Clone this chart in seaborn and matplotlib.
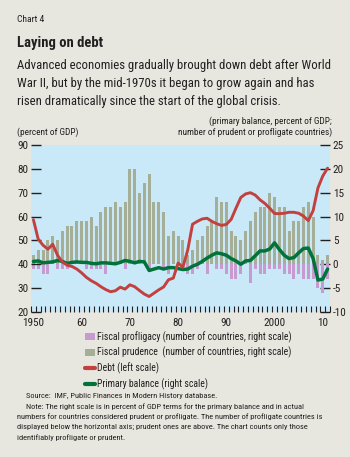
import numpy as np
import pandas as pd
import matplotlib
matplotlib.use("Agg")
import matplotlib.pyplot as plt
import seaborn as sns
from matplotlib import font_manager
from matplotlib.patches import Patch
from matplotlib.lines import Line2D

# ---------------------------------------------------------------
# Data
# ---------------------------------------------------------------
years = list(range(1950, 2012))

# number of prudent countries (right scale, above axis)
prudence = [2, 3, 3, 5, 6, 5, 7, 8, 8, 9,
            9, 9, 10, 8, 11, 12, 12, 13, 12, 13,
            20, 20, 15, 17, 19, 13, 13, 11, 6, 7,
            6, 5, 2, 3, 5, 6, 8, 9, 14, 13,
            13, 7, 6, 5, 7, 9, 11, 12, 12, 15,
            14, 12, 12, 7, 9, 9, 12, 13, 10, 2,
            1, 2]

# number of profligate countries (right scale, below axis)
profligacy = [-1, -1, -2, -2, 0, -1, -1, -1, 0, 0,
              0, -1, -1, -1, -1, -2, 0, 0, 0, -1,
              0, 0, 0, 0, -1, 0, 0, -1, -2, 0,
              0, 0, -2, -2, -1, 0, -2, 0, -1, -1,
              -2, -3, -3, -2, 0, -4, -1, -2, -2, -1,
              -1, -1, -2, -2, -3, -2, -3, -3, -3, -5,
              -6, -3]

# debt, percent of GDP (left scale)
debt = [58.7, 50.5, 48.0, 46.3, 48.4, 43.8, 41.0, 39.6, 39.1, 38.0,
        36.4, 34.5, 33.1, 32.0, 30.6, 29.4, 28.5, 28.9, 30.4, 29.6,
        31.4, 30.6, 29.0, 27.5, 26.5, 27.9, 29.3, 30.5, 33.5, 34.2,
        40.5, 38.8, 46.0, 56.8, 58.0, 59.0, 59.3, 58.0, 57.0, 56.3,
        56.7, 58.8, 63.5, 68.0, 69.5, 70.0, 69.0, 67.0, 65.5, 63.5,
        61.3, 61.2, 61.4, 61.8, 61.8, 61.4, 60.2, 58.3, 62.5, 72.0,
        77.0, 80.3]

# primary balance, percent of GDP (right scale)
primary = [0.6, 0.7, 0.3, 0.4, 0.5, 0.8, 0.6, 0.2, 0.4, 0.5,
           0.4, 0.4, 0.2, 0.1, 0.3, 0.3, 0.2, 0.1, 0.4, 0.8,
           0.6, 0.3, 0.6, 0.5, -1.3, -1.0, -0.7, -1.0, -0.7, -0.7,
           -0.9, -1.1, -1.0, -0.4, 0.0, 0.6, 1.3, 1.9, 2.4, 2.2,
           1.9, 1.2, 0.7, 0.0, 0.7, 0.8, 1.8, 2.8, 2.8, 3.2,
           4.5, 3.1, 1.9, 1.2, 1.4, 2.4, 3.3, 3.4, 1.2, -3.3,
           -3.1, -1.0]

decade_ticks = [1950, 1960, 1970, 1980, 1990, 2000, 2010]
decade_labels = ["1950", "60", "70", "80", "90", "2000", "10"]

df = pd.DataFrame({"year": years, "prudence": prudence,
                   "profligacy": profligacy, "debt": debt,
                   "primary": primary})

# ---------------------------------------------------------------
# Style
# ---------------------------------------------------------------
BG = "#e7e6df"
PLOT_BG = "#c9e9f8"
GRAY = "#a5af98"
PINK = "#c79bd0"
RED = "#c2413f"
GREEN = "#00733a"
TXT = "#231f20"

sns.set_style("white")

# the original uses a condensed face; take a narrow one if there is one
installed = {f.name for f in font_manager.fontManager.ttflist}
family = "Liberation Sans"
for cand in ["Liberation Sans Narrow", "Roboto Condensed", "Open Sans Condensed"]:
    if cand in installed:
        family = cand
        break
plt.rcParams["font.family"] = [family, "DejaVu Sans"]
plt.rcParams["axes.unicode_minus"] = False
plt.rcParams["text.color"] = TXT

W, H = 350, 457
fig = plt.figure(figsize=(W / 100, H / 100), dpi=100, facecolor=BG)
renderer = fig.canvas.get_renderer()


def fx(px):
    return px / W


def fy(py):
    return 1 - py / H


def fit_size(s, width, size=8, weight="normal"):
    # font size that makes the string span `width` pixels
    t = fig.text(0, 0, s, fontsize=size, fontweight=weight)
    w = t.get_window_extent(renderer).width
    t.remove()
    return size * width / w


# plot area: x 31..330, y 145..312
ax = fig.add_axes([fx(31), fy(312), fx(330) - fx(31), fy(145) - fy(312)])
ax.set_facecolor(PLOT_BG)

# bars and primary balance on the right-scale axes
bar_kw = dict(native_scale=True, saturation=1, width=0.62, errorbar=None,
              linewidth=0, edgecolor="none", ax=ax, zorder=2)
sns.barplot(data=df, x="year", y="prudence", color=GRAY, **bar_kw)
sns.barplot(data=df, x="year", y="profligacy", color=PINK, **bar_kw)
sns.lineplot(data=df, x="year", y="primary", color=GREEN, lw=2.5, ax=ax,
             zorder=4)
ax.set_ylim(-10, 25)
ax.set_xlim(1949.5, 2011.5)
ax.set_xlabel("")
ax.set_ylabel("")

# debt on the left scale
ax_d = ax.twinx()
sns.lineplot(data=df, x="year", y="debt", color=RED, lw=2.1, ax=ax_d, zorder=5)
ax_d.set_ylim(20, 90)
ax_d.set_xlim(1949.5, 2011.5)
ax_d.set_ylabel("")
ax_d.yaxis.tick_left()
ax_d.set_yticks(np.arange(20, 91, 10))

# twinx moves the first axes' ticks to the left, put them back right
ax.yaxis.tick_right()
ax.set_yticks(np.arange(-10, 26, 5))

for a in (ax, ax_d):
    for s in a.spines.values():
        s.set_visible(False)

TICK_FS = 8.0
ax.tick_params(axis="y", direction="in", length=7, width=1, color=TXT,
               labelsize=TICK_FS, pad=2, labelcolor=TXT, left=False,
               labelleft=False, right=True, labelright=True)
ax_d.tick_params(axis="y", direction="in", length=7, width=1, color=TXT,
                 labelsize=TICK_FS, pad=2, labelcolor=TXT, right=False,
                 labelright=False, left=True, labelleft=True)

ax.set_xticks(decade_ticks)
ax.set_xticklabels(decade_labels)
ax.set_xticks(np.arange(1949.5, 2012, 1), minor=True)
ax.tick_params(axis="x", which="major", length=0, labelsize=TICK_FS, pad=4,
               labelcolor=TXT)
ax.tick_params(axis="x", which="minor", direction="in", length=4, width=0.8,
               color=TXT, bottom=True)

# ---------------------------------------------------------------
# Texts
# ---------------------------------------------------------------
fig.text(fx(17), fy(20), "Chart 4", fontsize=fit_size("Chart 4", 27),
         va="center")
fig.text(fx(17), fy(43), "Laying on debt",
         fontsize=fit_size("Laying on debt", 86, weight="bold"),
         fontweight="bold", va="center")
sub = ["Advanced economies gradually brought down debt after World",
       "War II, but by the mid-1970s it began to grow again and has",
       "risen dramatically since the start of the global crisis."]
sub_fs = fit_size(sub[0], 313)
for i, line in enumerate(sub):
    fig.text(fx(17), fy(65 + i * 18), line, fontsize=sub_fs, va="center")

lab_fs = fit_size("number of prudent or profligate countries)", 154)
fig.text(fx(17), fy(132), "(percent of GDP)", fontsize=lab_fs, va="center")
fig.text(fx(332), fy(121), "(primary balance, percent of GDP;",
         fontsize=lab_fs, va="center", ha="right")
fig.text(fx(332), fy(132), "number of prudent or profligate countries)",
         fontsize=lab_fs, va="center", ha="right")

handles = [Patch(facecolor=PINK, edgecolor="none"),
           Patch(facecolor=GRAY, edgecolor="none"),
           Line2D([0], [0], color=RED, lw=3),
           Line2D([0], [0], color=GREEN, lw=3)]
labels = ["Fiscal profligacy (number of countries, right scale)",
          "Fiscal prudence  (number of countries, right scale)",
          "Debt (left scale)",
          "Primary balance (right scale)"]
leg_fs = fit_size(labels[0], 195)
fig.legend(handles, labels, loc="upper left",
           bbox_to_anchor=(fx(85), fy(331)), frameon=False, fontsize=leg_fs,
           handlelength=1.0, handleheight=0.8, handletextpad=0.25,
           labelspacing=0.45, borderaxespad=0, borderpad=0)

notes = [(26, 396, "Source:  IMF, Public Finances in Modern History database."),
         (26, 407, "Note: The right scale is in percent of GDP terms for the primary balance and in actual"),
         (17, 417, "numbers for countries considered prudent or profligate. The number of profligate countries is"),
         (17, 427, "displayed below the horizontal axis; prudent ones are above. The chart counts only those"),
         (17, 438, "identifiably profligate or prudent.")]
note_fs = fit_size(notes[2][2], 309)
for x, y, t in notes:
    fig.text(fx(x), fy(y), t, fontsize=note_fs, va="center")

fig.savefig("out.png", dpi=100, facecolor=BG)
